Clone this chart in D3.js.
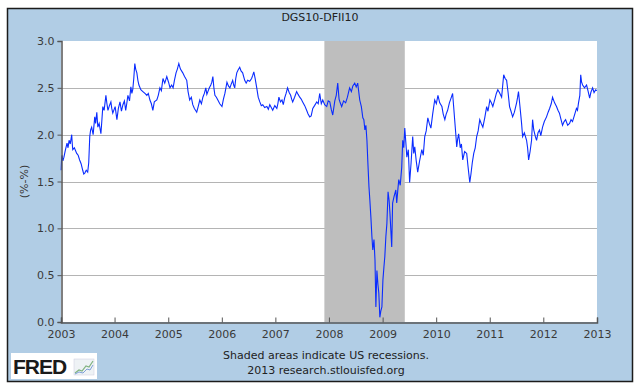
<!DOCTYPE html>
<html>
<head>
<meta charset="utf-8">
<script src="https://cdn.jsdelivr.net/npm/d3@7"></script>
<style>
  body { margin: 0; background: #fff; }
  text { font-family: "DejaVu Sans", Verdana, sans-serif; }
</style>
</head>
<body>
<div id="chart"></div>
<script>
// DGS10-DFII10 (10y breakeven): [date, percent]
var points = [
  ["2003-01-02",1.62],["2003-01-05",1.74],["2003-01-08",1.78],["2003-01-14",1.72],["2003-01-21",1.76],
  ["2003-01-30",1.83],["2003-02-11",1.91],["2003-02-18",1.86],["2003-02-25",1.94],["2003-03-05",1.90],
  ["2003-03-15",2.00],["2003-03-18",1.92],["2003-03-22",1.84],["2003-04-02",1.86],["2003-04-18",1.80],
  ["2003-04-28",1.78],["2003-05-08",1.73],["2003-05-18",1.69],["2003-05-29",1.62],["2003-06-05",1.58],
  ["2003-06-12",1.59],["2003-06-22",1.62],["2003-07-02",1.60],["2003-07-09",1.70],["2003-07-16",1.98],
  ["2003-07-22",2.05],["2003-07-29",2.08],["2003-08-08",2.00],["2003-08-19",2.19],["2003-08-25",2.12],
  ["2003-09-02",2.24],["2003-09-09",2.08],["2003-09-18",2.12],["2003-09-30",2.01],["2003-10-06",2.14],
  ["2003-10-13",2.30],["2003-10-22",2.26],["2003-11-03",2.42],["2003-11-10",2.33],["2003-11-17",2.26],
  ["2003-11-27",2.31],["2003-12-07",2.35],["2003-12-13",2.28],["2003-12-20",2.23],["2004-01-05",2.30],
  ["2004-01-17",2.16],["2004-01-27",2.28],["2004-02-07",2.35],["2004-02-17",2.25],["2004-02-27",2.32],
  ["2004-03-08",2.36],["2004-03-17",2.26],["2004-03-24",2.33],["2004-04-01",2.42],["2004-04-12",2.36],
  ["2004-04-21",2.51],["2004-04-28",2.44],["2004-05-04",2.48],["2004-05-11",2.60],["2004-05-18",2.76],
  ["2004-05-24",2.70],["2004-06-01",2.66],["2004-06-08",2.58],["2004-06-15",2.53],["2004-06-28",2.48],
  ["2004-07-12",2.46],["2004-07-26",2.44],["2004-08-08",2.42],["2004-08-18",2.44],["2004-08-29",2.37],
  ["2004-09-08",2.33],["2004-09-18",2.26],["2004-09-28",2.35],["2004-10-15",2.37],["2004-10-25",2.42],
  ["2004-11-05",2.50],["2004-11-15",2.47],["2004-11-26",2.60],["2004-12-08",2.55],["2004-12-22",2.62],
  ["2005-01-03",2.56],["2005-01-13",2.50],["2005-01-24",2.53],["2005-02-03",2.50],["2005-02-12",2.58],
  ["2005-02-23",2.66],["2005-03-04",2.70],["2005-03-14",2.76],["2005-03-25",2.70],["2005-04-10",2.66],
  ["2005-04-22",2.62],["2005-05-07",2.58],["2005-05-16",2.46],["2005-05-27",2.37],["2005-06-07",2.40],
  ["2005-06-17",2.32],["2005-06-28",2.28],["2005-07-14",2.24],["2005-07-24",2.30],["2005-08-04",2.37],
  ["2005-08-15",2.33],["2005-08-25",2.40],["2005-09-04",2.44],["2005-09-14",2.50],["2005-09-21",2.43],
  ["2005-09-28",2.46],["2005-10-08",2.50],["2005-10-18",2.53],["2005-10-25",2.56],["2005-11-01",2.62],
  ["2005-11-08",2.50],["2005-11-15",2.42],["2005-11-25",2.40],["2005-12-05",2.37],["2005-12-18",2.33],
  ["2006-01-02",2.30],["2006-01-12",2.38],["2006-01-22",2.44],["2006-01-29",2.50],["2006-02-05",2.56],
  ["2006-02-15",2.52],["2006-02-25",2.50],["2006-03-06",2.54],["2006-03-16",2.58],["2006-03-23",2.53],
  ["2006-03-30",2.50],["2006-04-06",2.60],["2006-04-13",2.66],["2006-04-22",2.69],["2006-05-03",2.72],
  ["2006-05-12",2.68],["2006-05-23",2.66],["2006-05-30",2.62],["2006-06-06",2.58],["2006-06-16",2.55],
  ["2006-06-26",2.58],["2006-07-10",2.57],["2006-07-23",2.60],["2006-07-30",2.63],["2006-08-07",2.67],
  ["2006-08-16",2.60],["2006-08-27",2.50],["2006-09-06",2.40],["2006-09-17",2.35],["2006-09-27",2.31],
  ["2006-10-07",2.32],["2006-10-20",2.29],["2006-11-04",2.30],["2006-11-14",2.27],["2006-11-24",2.32],
  ["2006-12-04",2.29],["2006-12-14",2.26],["2006-12-28",2.31],["2007-01-11",2.28],["2007-01-18",2.33],
  ["2007-01-25",2.40],["2007-02-05",2.35],["2007-02-15",2.37],["2007-02-24",2.32],["2007-03-05",2.39],
  ["2007-03-15",2.44],["2007-03-25",2.50],["2007-04-05",2.45],["2007-04-15",2.42],["2007-04-22",2.38],
  ["2007-04-29",2.35],["2007-05-12",2.40],["2007-05-26",2.46],["2007-06-05",2.43],["2007-06-16",2.40],
  ["2007-06-26",2.38],["2007-07-06",2.35],["2007-07-20",2.31],["2007-08-02",2.26],["2007-08-12",2.22],
  ["2007-08-23",2.19],["2007-09-02",2.20],["2007-09-13",2.28],["2007-09-25",2.31],["2007-10-10",2.35],
  ["2007-10-20",2.33],["2007-10-30",2.44],["2007-11-10",2.33],["2007-11-20",2.37],["2007-12-03",2.32],
  ["2007-12-17",2.30],["2007-12-27",2.36],["2008-01-07",2.35],["2008-01-17",2.27],["2008-01-27",2.21],
  ["2008-02-10",2.36],["2008-02-20",2.42],["2008-03-01",2.55],["2008-03-10",2.38],["2008-03-18",2.34],
  ["2008-03-28",2.30],["2008-04-10",2.36],["2008-04-24",2.34],["2008-05-06",2.40],["2008-05-21",2.50],
  ["2008-06-02",2.46],["2008-06-12",2.52],["2008-06-25",2.55],["2008-07-05",2.51],["2008-07-15",2.55],
  ["2008-07-29",2.37],["2008-08-09",2.30],["2008-08-19",2.18],["2008-08-26",2.16],["2008-09-02",2.05],
  ["2008-09-09",2.10],["2008-09-16",1.94],["2008-09-23",1.68],["2008-09-30",1.44],["2008-10-06",1.30],
  ["2008-10-13",1.12],["2008-10-20",0.91],["2008-10-26",0.77],["2008-11-03",0.88],["2008-11-10",0.66],
  ["2008-11-16",0.16],["2008-11-23",0.55],["2008-11-30",0.40],["2008-12-06",0.31],["2008-12-13",0.05],
  ["2008-12-20",0.12],["2008-12-27",0.16],["2009-01-03",0.45],["2009-01-10",0.59],["2009-01-16",0.70],
  ["2009-01-23",0.91],["2009-01-30",1.05],["2009-02-07",1.39],["2009-02-14",1.30],["2009-02-20",1.16],
  ["2009-03-04",0.80],["2009-03-10",1.27],["2009-03-20",1.34],["2009-04-01",1.41],["2009-04-07",1.27],
  ["2009-04-14",1.40],["2009-04-21",1.52],["2009-05-01",1.46],["2009-05-11",1.65],["2009-05-18",1.94],
  ["2009-05-25",1.86],["2009-06-01",2.07],["2009-06-08",1.92],["2009-06-15",1.76],["2009-06-25",1.84],
  ["2009-07-04",1.49],["2009-07-14",1.70],["2009-07-25",1.98],["2009-08-01",1.80],["2009-08-08",1.87],
  ["2009-08-18",1.72],["2009-08-28",1.60],["2009-09-10",1.72],["2009-09-25",1.84],["2009-10-05",1.78],
  ["2009-10-15",1.98],["2009-10-25",2.04],["2009-11-05",2.18],["2009-11-15",2.12],["2009-11-26",2.07],
  ["2009-12-08",2.22],["2009-12-22",2.37],["2010-01-02",2.33],["2010-01-13",2.42],["2010-01-25",2.34],
  ["2010-02-09",2.30],["2010-02-18",2.22],["2010-03-01",2.16],["2010-03-10",2.22],["2010-03-20",2.26],
  ["2010-04-01",2.34],["2010-04-10",2.38],["2010-04-23",2.44],["2010-04-30",2.30],["2010-05-07",2.16],
  ["2010-05-14",2.02],["2010-05-21",1.87],["2010-05-27",1.95],["2010-06-03",2.01],["2010-06-14",1.86],
  ["2010-06-22",1.90],["2010-07-01",1.73],["2010-07-14",1.82],["2010-07-28",1.80],["2010-08-06",1.66],
  ["2010-08-18",1.49],["2010-08-26",1.58],["2010-09-04",1.70],["2010-09-14",1.80],["2010-09-24",1.86],
  ["2010-10-04",1.98],["2010-10-14",2.04],["2010-10-25",2.16],["2010-11-04",2.12],["2010-11-15",2.08],
  ["2010-11-28",2.18],["2010-12-11",2.30],["2010-12-20",2.25],["2011-01-02",2.37],["2011-01-12",2.34],
  ["2011-01-22",2.30],["2011-02-05",2.38],["2011-02-15",2.44],["2011-02-25",2.48],["2011-03-08",2.45],
  ["2011-03-23",2.40],["2011-03-30",2.52],["2011-04-06",2.64],["2011-04-16",2.60],["2011-04-26",2.58],
  ["2011-05-06",2.45],["2011-05-16",2.30],["2011-05-26",2.25],["2011-06-06",2.19],["2011-06-18",2.24],
  ["2011-07-03",2.34],["2011-07-10",2.40],["2011-07-16",2.46],["2011-07-26",2.30],["2011-08-06",2.12],
  ["2011-08-13",1.98],["2011-08-25",2.02],["2011-09-09",1.94],["2011-09-16",1.86],["2011-09-23",1.73],
  ["2011-10-03",1.82],["2011-10-13",1.94],["2011-10-20",2.16],["2011-10-28",2.05],["2011-11-08",1.98],
  ["2011-11-16",1.94],["2011-11-26",2.02],["2011-12-06",2.05],["2011-12-15",1.99],["2011-12-27",2.08],
  ["2012-01-08",2.14],["2012-01-23",2.19],["2012-02-03",2.24],["2012-02-13",2.28],["2012-02-24",2.33],
  ["2012-03-04",2.40],["2012-03-18",2.34],["2012-03-31",2.30],["2012-04-10",2.26],["2012-04-20",2.23],
  ["2012-05-01",2.16],["2012-05-11",2.10],["2012-05-22",2.14],["2012-06-01",2.16],["2012-06-15",2.10],
  ["2012-06-28",2.12],["2012-07-08",2.16],["2012-07-18",2.14],["2012-07-30",2.20],["2012-08-14",2.28],
  ["2012-08-21",2.26],["2012-08-28",2.34],["2012-09-06",2.42],["2012-09-12",2.64],["2012-09-18",2.56],
  ["2012-09-25",2.53],["2012-10-08",2.50],["2012-10-22",2.53],["2012-11-02",2.46],["2012-11-12",2.39],
  ["2012-11-20",2.45],["2012-12-02",2.50],["2012-12-12",2.45],["2012-12-23",2.48],["2012-12-31",2.47]
];
var recessionStart = "2007-12-01";
var recessionEnd = "2009-06-01";
var yTicks = [0, 0.5, 1.0, 1.5, 2.0, 2.5, 3.0];
var xTickYears = [2003, 2004, 2005, 2006, 2007, 2008, 2009, 2010, 2011, 2012, 2013];

var width = 640, height = 389;
var plot = { left: 61, right: 597, top: 41, bottom: 322 };
var parse = d3.timeParse("%Y-%m-%d");

var data = points.map(function (p) {
    return { date: parse(p[0]), value: p[1] };
});

var svg = d3.select("#chart").append("svg")
    .attr("width", width)
    .attr("height", height);

// frame
svg.append("rect")
    .attr("x", 7.5).attr("y", 8.5)
    .attr("width", 625).attr("height", 373)
    .attr("fill", "#b1cde5")
    .attr("stroke", "#1b1b1b")
    .attr("stroke-width", 1.5);

var x = d3.scaleTime()
    .domain([new Date(2003, 0, 1), new Date(2013, 0, 1)])
    .range([plot.left, plot.right]);
var y = d3.scaleLinear()
    .domain([0, 3])
    .range([plot.bottom, plot.top]);

svg.append("rect")
    .attr("x", plot.left).attr("y", plot.top)
    .attr("width", plot.right - plot.left)
    .attr("height", plot.bottom - plot.top)
    .attr("fill", "#fff");

// gridlines
svg.selectAll("line.grid")
    .data(yTicks.filter(function (d) { return d > 0 && d < 3; }))
    .enter().append("line")
    .attr("class", "grid")
    .attr("x1", plot.left).attr("x2", plot.right)
    .attr("y1", function (d) { return Math.round(y(d)) + 0.5; })
    .attr("y2", function (d) { return Math.round(y(d)) + 0.5; })
    .attr("stroke", "#b4b4b4")
    .attr("stroke-width", 1);

// recession shading (drawn over the grid, like FRED)
svg.append("rect")
    .attr("x", x(parse(recessionStart)))
    .attr("y", plot.top)
    .attr("width", x(parse(recessionEnd)) - x(parse(recessionStart)))
    .attr("height", plot.bottom - plot.top)
    .attr("fill", "#bebebe");

// series
var line = d3.line()
    .x(function (d) { return x(d.date); })
    .y(function (d) { return y(d.value); });

svg.append("path")
    .datum(data)
    .attr("d", line)
    .attr("fill", "none")
    .attr("stroke", "#0a2cff")
    .attr("stroke-width", 1.1);

// axes
var yAxis = d3.axisLeft(y)
    .tickValues(yTicks)
    .tickSize(4)
    .tickFormat(d3.format(".1f"));
var gy = svg.append("g")
    .attr("transform", "translate(" + (plot.left + 0.5) + ",0)")
    .call(yAxis);
gy.select(".domain").attr("stroke", "#555").attr("stroke-width", 1.5);
gy.selectAll(".tick line").attr("stroke", "#555");
gy.selectAll(".tick text")
    .attr("x", -7)
    .attr("fill", "#3a3a3a")
    .style("font-size", "11px");

var xAxis = d3.axisBottom(x)
    .tickValues(xTickYears.map(function (yr) { return new Date(yr, 0, 1); }))
    .tickSize(-5)
    .tickFormat(d3.timeFormat("%Y"));
var gx = svg.append("g")
    .attr("transform", "translate(0," + (plot.bottom + 0.5) + ")")
    .call(xAxis);
gx.select(".domain").attr("stroke", "#555").attr("stroke-width", 1.5);
gx.selectAll(".tick line").attr("stroke", "#555");
gx.selectAll(".tick text")
    .attr("y", 8)
    .attr("fill", "#3a3a3a")
    .style("font-size", "11px");

// texts
svg.append("text")
    .attr("x", 320).attr("y", 21)
    .attr("text-anchor", "middle")
    .attr("fill", "#222")
    .style("font-size", "11px")
    .text("DGS10-DFII10");

svg.append("text")
    .attr("transform", "translate(28," + ((plot.top + plot.bottom) / 2) + ") rotate(-90)")
    .attr("text-anchor", "middle")
    .attr("fill", "#3a3a3a")
    .style("font-size", "11px")
    .text("(%-%)");

svg.append("text")
    .attr("x", 326).attr("y", 359)
    .attr("text-anchor", "middle")
    .attr("fill", "#222")
    .style("font-size", "11px")
    .text("Shaded areas indicate US recessions.");

svg.append("text")
    .attr("x", 326).attr("y", 374)
    .attr("text-anchor", "middle")
    .attr("fill", "#222")
    .style("font-size", "11px")
    .text("2013 research.stlouisfed.org");

// FRED logo
var logo = svg.append("g").attr("transform", "translate(11,353)");
logo.append("rect")
    .attr("width", 86).attr("height", 26)
    .attr("fill", "#fff");
logo.append("text")
    .attr("x", 2).attr("y", 21)
    .attr("fill", "#1a1a1a")
    .style("font-family", "'Liberation Sans', Arial, sans-serif")
    .style("font-weight", "bold")
    .style("font-size", "21px")
    .style("letter-spacing", "-1px")
    .text("FRED");
logo.append("rect")
    .attr("x", 63).attr("y", 6).attr("width", 20).attr("height", 16)
    .attr("fill", "#eef2f5").attr("stroke", "#ccd").attr("stroke-width", 0.5);
logo.append("path")
    .attr("d", "M64,20 L68,17 L71,18 L75,13 L78,14 L82,8")
    .attr("fill", "none").attr("stroke", "#7fb27f").attr("stroke-width", 1.2);
logo.append("path")
    .attr("d", "M64,21 L68,19 L72,20 L76,16 L79,17 L82,12")
    .attr("fill", "none").attr("stroke", "#7fa0d8").attr("stroke-width", 1);
</script>
</body>
</html>
